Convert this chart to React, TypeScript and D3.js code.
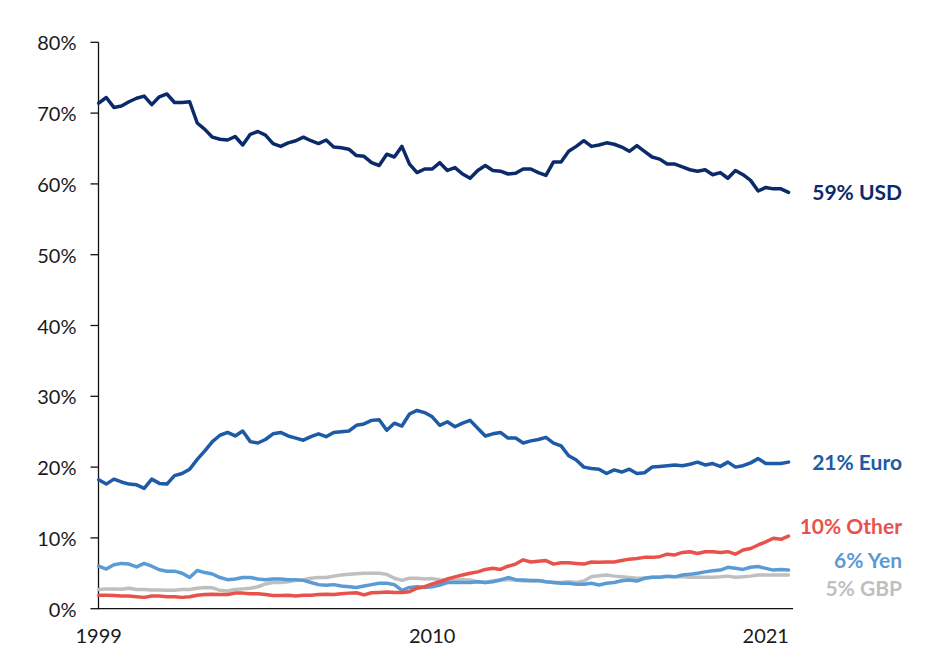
import React from "react";
import * as d3 from "d3";

const startYear = 1999;
const yTicks = [0, 10, 20, 30, 40, 50, 60, 70, 80];
const xTickYears = [1999, 2010, 2021];

const usd = [71.4, 72.2, 70.8, 71.0, 71.6, 72.1, 72.4, 71.2, 72.3, 72.7, 71.5, 71.5, 71.6, 68.6, 67.7, 66.6, 66.3, 66.2, 66.7, 65.5, 67.0, 67.4, 66.9, 65.7, 65.3, 65.8, 66.1, 66.6, 66.1, 65.7, 66.2, 65.2, 65.1, 64.9, 64.0, 63.9, 63.0, 62.6, 64.2, 63.8, 65.3, 62.8, 61.6, 62.1, 62.1, 63.0, 61.9, 62.3, 61.4, 60.8, 61.9, 62.6, 61.9, 61.8, 61.4, 61.5, 62.1, 62.1, 61.6, 61.2, 63.1, 63.1, 64.6, 65.3, 66.1, 65.3, 65.5, 65.8, 65.6, 65.2, 64.6, 65.4, 64.6, 63.8, 63.5, 62.8, 62.8, 62.4, 62.0, 61.8, 62.0, 61.3, 61.6, 60.8, 61.9, 61.3, 60.5, 59.0, 59.5, 59.3, 59.3, 58.8];

const euro = [18.2, 17.6, 18.3, 17.9, 17.6, 17.5, 17.0, 18.3, 17.7, 17.6, 18.8, 19.1, 19.7, 21.1, 22.3, 23.6, 24.5, 24.9, 24.4, 25.1, 23.6, 23.4, 23.9, 24.7, 24.9, 24.4, 24.1, 23.8, 24.3, 24.7, 24.3, 24.9, 25.0, 25.1, 25.9, 26.1, 26.6, 26.7, 25.2, 26.2, 25.8, 27.5, 28.0, 27.7, 27.1, 25.9, 26.4, 25.7, 26.2, 26.6, 25.5, 24.4, 24.7, 24.9, 24.1, 24.1, 23.4, 23.7, 23.9, 24.2, 23.4, 23.0, 21.6, 21.0, 20.0, 19.8, 19.7, 19.1, 19.6, 19.3, 19.7, 19.1, 19.2, 20.0, 20.1, 20.2, 20.3, 20.2, 20.4, 20.7, 20.3, 20.5, 20.1, 20.7, 20.0, 20.2, 20.6, 21.2, 20.5, 20.5, 20.5, 20.7];

const yen = [6.0, 5.6, 6.2, 6.4, 6.3, 5.9, 6.4, 6.0, 5.5, 5.3, 5.3, 5.0, 4.4, 5.4, 5.1, 4.9, 4.4, 4.1, 4.2, 4.4, 4.4, 4.2, 4.1, 4.2, 4.2, 4.1, 4.1, 4.0, 3.7, 3.4, 3.3, 3.4, 3.2, 3.1, 3.0, 3.2, 3.4, 3.6, 3.6, 3.4, 2.6, 3.0, 3.1, 3.0, 3.1, 3.35, 3.7, 3.7, 3.7, 3.7, 3.8, 3.7, 3.8, 4.05, 4.4, 4.1, 4.05, 4.0, 4.0, 3.8, 3.7, 3.6, 3.6, 3.45, 3.45, 3.6, 3.35, 3.6, 3.7, 3.95, 4.05, 3.9, 4.3, 4.45, 4.45, 4.6, 4.5, 4.75, 4.85, 5.0, 5.2, 5.35, 5.45, 5.85, 5.7, 5.55, 5.85, 5.95, 5.7, 5.45, 5.55, 5.45];

const gbp = [2.7, 2.8, 2.8, 2.75, 2.9, 2.7, 2.7, 2.65, 2.65, 2.6, 2.6, 2.7, 2.7, 2.9, 3.0, 2.95, 2.6, 2.5, 2.7, 2.8, 2.9, 3.1, 3.5, 3.7, 3.7, 3.8, 4.0, 4.1, 4.3, 4.4, 4.4, 4.6, 4.75, 4.85, 4.95, 5.0, 5.0, 5.0, 4.85, 4.3, 4.0, 4.3, 4.3, 4.2, 4.25, 4.1, 4.05, 4.05, 4.1, 4.05, 3.8, 3.7, 3.95, 4.05, 4.1, 4.05, 3.9, 3.9, 3.9, 3.8, 3.7, 3.7, 3.8, 3.7, 3.9, 4.5, 4.65, 4.75, 4.6, 4.5, 4.4, 4.3, 4.3, 4.45, 4.45, 4.5, 4.5, 4.5, 4.45, 4.45, 4.45, 4.45, 4.5, 4.6, 4.45, 4.5, 4.6, 4.75, 4.75, 4.75, 4.75, 4.75];

const other = [1.9, 1.9, 1.85, 1.8, 1.8, 1.7, 1.6, 1.8, 1.8, 1.7, 1.7, 1.6, 1.7, 1.9, 2.0, 2.05, 2.0, 2.0, 2.2, 2.2, 2.1, 2.1, 2.0, 1.85, 1.85, 1.9, 1.8, 1.9, 1.9, 2.0, 2.05, 2.0, 2.1, 2.2, 2.25, 1.95, 2.25, 2.3, 2.35, 2.3, 2.3, 2.4, 2.9, 3.1, 3.5, 3.8, 4.2, 4.5, 4.75, 5.0, 5.2, 5.55, 5.7, 5.55, 6.0, 6.3, 6.9, 6.6, 6.7, 6.8, 6.3, 6.5, 6.5, 6.4, 6.3, 6.6, 6.55, 6.6, 6.6, 6.8, 7.0, 7.1, 7.25, 7.25, 7.35, 7.7, 7.6, 7.95, 8.05, 7.8, 8.05, 8.05, 7.95, 8.05, 7.7, 8.3, 8.5, 9.0, 9.45, 9.95, 9.8, 10.25];

const seriesNames = ["GBP", "Yen", "Other", "Euro", "USD"];
const seriesValues = [gbp, yen, other, euro, usd];
const seriesColors = ["#BFBFBF", "#5B9BD5", "#E8524B", "#1D5BA6", "#0B2A6A"];
const seriesLabels = ["5% GBP", "6% Yen", "10% Other", "21% Euro", "59% USD"];
const labelValues = [3.0, 7.0, 11.8, 20.8, 58.9];

const quarters = usd.map((_, i) => startYear + i / 4);

export default function App() {
  const W = 945;
  const H = 667;
  const x = d3.scaleLinear().domain([1999, 2021.75]).range([98.7, 788.5]);
  const y = d3.scaleLinear().domain([0, 80]).range([608.7, 42.3]);
  const line = d3
    .line<number>()
    .x((_, i) => x(quarters[i]))
    .y((d) => y(d))
    .curve(d3.curveLinear);

  const font = "Lato, 'Open Sans', sans-serif";
  const axisX = 98.5;
  const axisRight = 793;

  return (
    <svg
      width={W}
      height={H}
      style={{ position: "absolute", left: 0, top: 0, background: "#fff" }}
      fontFamily={font}
    >
      <rect x={0} y={0} width={W} height={H} fill="#fff" />
      {/* y axis */}
      <line x1={axisX} x2={axisX} y1={y(80)} y2={y(0) + 0.5} stroke="#111" strokeWidth={1.3} />
      {yTicks.map((t) => (
        <g key={t}>
          <line x1={axisX - 8} x2={axisX} y1={y(t)} y2={y(t)} stroke="#111" strokeWidth={1.3} />
          <text
            x={76.5}
            y={y(t)}
            textAnchor="end"
            dominantBaseline="central"
            fontSize={20}
            fill="#1a1a1a"
          >
            {t}%
          </text>
        </g>
      ))}
      {/* x axis */}
      <line x1={axisX} x2={axisRight} y1={y(0)} y2={y(0)} stroke="#111" strokeWidth={1.3} />
      {xTickYears.map((yr) => (
        <text key={yr} x={x(yr)} y={643} textAnchor="middle" fontSize={20} fill="#1a1a1a">
          {yr}
        </text>
      ))}
      {/* lines */}
      {seriesValues.map((vals, k) => (
        <path
          key={seriesNames[k]}
          d={line(vals) || ""}
          fill="none"
          stroke={seriesColors[k]}
          strokeWidth={3.5}
          strokeLinejoin="round"
          strokeLinecap="round"
        />
      ))}
      {/* labels */}
      {seriesLabels.map((lab, k) => (
        <text
          key={lab}
          x={902}
          y={y(labelValues[k])}
          textAnchor="end"
          dominantBaseline="central"
          fontSize={21}
          fontWeight={700}
          fill={seriesColors[k]}
        >
          {lab}
        </text>
      ))}
    </svg>
  );
}
